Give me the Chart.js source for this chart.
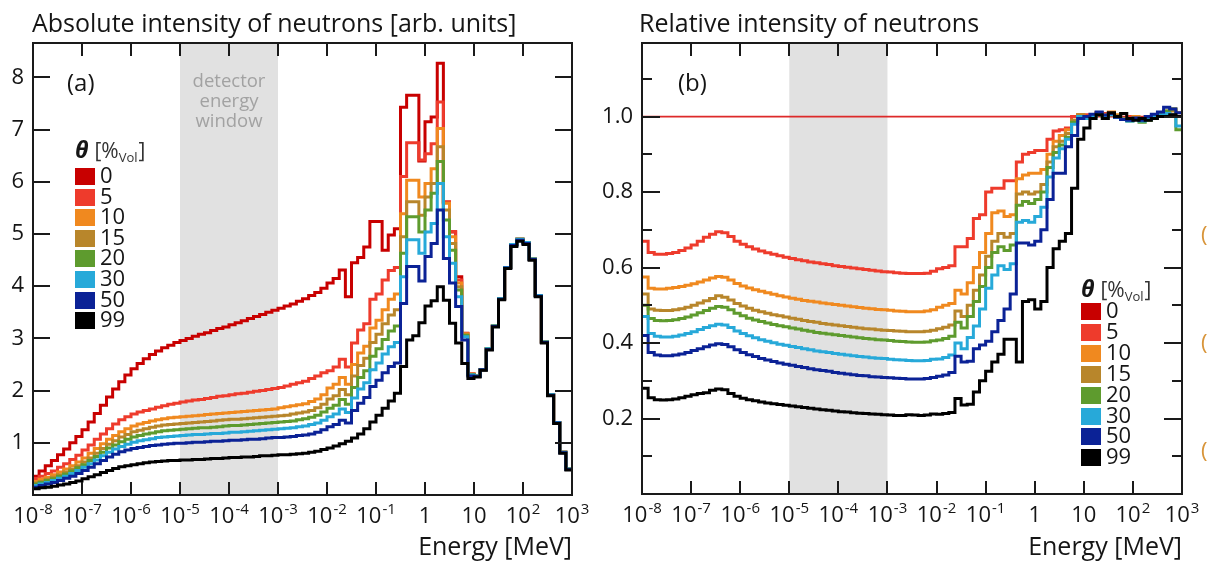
<!DOCTYPE html>
<html><head><meta charset="utf-8">
<script src="https://cdn.jsdelivr.net/npm/chart.js@4.4.1/dist/chart.umd.min.js"></script>
<style>
html,body{margin:0;padding:0;background:#fff;}
#wrap{position:relative;width:1214px;height:565px;overflow:hidden;background:#fff;}
canvas{position:absolute;top:0;}
#ca{left:0}
#cb{left:587px}
</style></head><body>
<div id="wrap"><canvas id="ca" width="607" height="565"></canvas><canvas id="cb" width="627" height="565"></canvas></div>
<script>
const FONT = "'Open Sans', 'DejaVu Sans', sans-serif";

// bin edges, as log10(E / MeV), 8 bins per decade
const binEdgesLog = [
 -8,-7.875,-7.75,-7.625,-7.5,-7.375,-7.25,-7.125,
 -7,-6.875,-6.75,-6.625,-6.5,-6.375,-6.25,-6.125,
 -6,-5.875,-5.75,-5.625,-5.5,-5.375,-5.25,-5.125,
 -5,-4.875,-4.75,-4.625,-4.5,-4.375,-4.25,-4.125,
 -4,-3.875,-3.75,-3.625,-3.5,-3.375,-3.25,-3.125,
 -3,-2.875,-2.75,-2.625,-2.5,-2.375,-2.25,-2.125,
 -2,-1.875,-1.75,-1.625,-1.5,-1.375,-1.25,-1.125,
 -1,-0.875,-0.75,-0.625,-0.5,-0.375,-0.25,-0.125,
 0,0.125,0.25,0.375,0.5,0.625,0.75,0.875,
 1,1.125,1.25,1.375,1.5,1.625,1.75,1.875,
 2,2.125,2.25,2.375,2.5,2.625,2.75,2.875,
 3];

const xTickValues = [-8,-7,-6,-5,-4,-3,-2,-1,0,1,2,3];
const xTickLabels = ['10^-8','10^-7','10^-6','10^-5','10^-4','10^-3','10^-2','10^-1','1','10','10^2','10^3'];
const yTicksA = [1,2,3,4,5,6,7,8];
const yTicksB = [0.1,0.2,0.3,0.4,0.5,0.6,0.7,0.8,0.9,1.0,1.1];
const yLabelsB = ['','0.2','','0.4','','0.6','','0.8','','1.0',''];
const thetaLabels = ['0','5','10','15','20','30','50','99'];
const thetaColors = ['#c80000','#ee3b2c','#f0891f','#b8862b','#5e9b2e','#27a9d9','#0b2296','#000000'];
const detectorWindow = [-5,-3];

// Panel (a): absolute intensity [arb. units], one value per bin
const a_theta0 = [
 0.36,0.46,0.56,0.66,0.77,0.88,1.00,1.12,
 1.25,1.40,1.56,1.72,1.88,2.03,2.17,2.30,
 2.42,2.52,2.61,2.69,2.76,2.82,2.87,2.92,
 2.96,3.00,3.04,3.08,3.11,3.15,3.19,3.22,
 3.26,3.30,3.34,3.38,3.42,3.46,3.50,3.54,
 3.58,3.62,3.66,3.71,3.76,3.82,3.88,3.96,
 4.06,4.15,4.31,3.80,4.45,4.55,4.75,5.24,
 5.24,4.69,4.98,5.10,7.43,7.66,7.66,6.40,
 7.15,7.24,8.27,5.61,5.04,4.18,3.10,2.32,
 2.28,2.40,2.80,3.24,3.76,4.36,4.80,4.90,
 4.84,4.52,3.82,2.93,1.92,1.39,0.82,0.50];
const a_theta5 = [
 0.31,0.36,0.41,0.46,0.53,0.60,0.68,0.76,
 0.86,0.96,1.07,1.17,1.27,1.36,1.44,1.50,
 1.55,1.59,1.62,1.65,1.68,1.71,1.74,1.76,
 1.78,1.80,1.82,1.83,1.85,1.87,1.89,1.90,
 1.92,1.94,1.95,1.97,1.99,2.00,2.02,2.04,
 2.06,2.09,2.12,2.15,2.18,2.23,2.28,2.34,
 2.38,2.45,2.60,2.45,2.91,3.16,3.28,3.75,
 3.85,4.12,4.30,4.36,6.10,6.75,6.75,6.42,
 6.54,6.73,7.53,5.62,5.05,4.12,3.09,2.32,
 2.28,2.40,2.80,3.24,3.76,4.36,4.80,4.90,
 4.84,4.52,3.82,2.93,1.92,1.39,0.82,0.50];
const a_theta10 = [
 0.26,0.30,0.34,0.39,0.44,0.50,0.56,0.63,
 0.71,0.80,0.89,0.98,1.07,1.14,1.21,1.27,
 1.32,1.36,1.39,1.42,1.44,1.46,1.48,1.49,
 1.50,1.51,1.52,1.53,1.54,1.55,1.56,1.57,
 1.58,1.59,1.60,1.61,1.62,1.63,1.64,1.65,
 1.67,1.69,1.71,1.73,1.75,1.79,1.84,1.92,
 2.05,2.12,2.25,2.12,2.50,2.72,2.85,3.20,
 3.35,3.55,3.75,3.85,5.39,6.03,6.03,5.71,
 5.97,6.25,7.02,5.59,4.95,4.06,3.09,2.32,
 2.28,2.40,2.80,3.24,3.76,4.36,4.80,4.90,
 4.84,4.52,3.82,2.93,1.92,1.39,0.82,0.50];
const a_theta15 = [
 0.23,0.26,0.30,0.34,0.39,0.44,0.50,0.56,
 0.63,0.71,0.80,0.89,0.97,1.04,1.11,1.16,
 1.21,1.24,1.27,1.30,1.32,1.34,1.35,1.36,
 1.37,1.38,1.39,1.40,1.41,1.42,1.43,1.44,
 1.45,1.45,1.46,1.47,1.48,1.49,1.50,1.51,
 1.52,1.53,1.55,1.57,1.59,1.62,1.67,1.74,
 1.84,1.90,2.02,1.92,2.28,2.48,2.62,2.92,
 3.08,3.28,3.45,3.55,4.95,5.62,5.62,5.36,
 5.71,5.97,6.67,5.46,4.82,3.99,3.06,2.31,
 2.28,2.40,2.80,3.24,3.76,4.36,4.80,4.90,
 4.84,4.52,3.82,2.93,1.92,1.39,0.82,0.50];
const a_theta20 = [
 0.21,0.24,0.28,0.31,0.36,0.40,0.46,0.52,
 0.58,0.66,0.74,0.82,0.90,0.96,1.02,1.07,
 1.11,1.14,1.17,1.19,1.21,1.23,1.24,1.25,
 1.26,1.27,1.28,1.29,1.29,1.30,1.31,1.32,
 1.33,1.33,1.34,1.35,1.36,1.37,1.38,1.39,
 1.40,1.41,1.42,1.44,1.46,1.49,1.53,1.59,
 1.66,1.72,1.83,1.74,2.06,2.25,2.38,2.66,
 2.80,2.98,3.14,3.24,4.63,5.33,5.33,5.04,
 5.46,5.78,6.39,5.27,4.69,3.93,3.06,2.31,
 2.28,2.40,2.80,3.24,3.76,4.36,4.80,4.90,
 4.84,4.52,3.82,2.93,1.92,1.39,0.82,0.50];
const a_theta30 = [
 0.18,0.21,0.24,0.28,0.32,0.36,0.41,0.47,
 0.53,0.60,0.67,0.75,0.82,0.88,0.93,0.97,
 1.01,1.04,1.06,1.08,1.10,1.11,1.12,1.13,
 1.14,1.15,1.16,1.16,1.17,1.18,1.18,1.19,
 1.20,1.20,1.21,1.22,1.23,1.24,1.25,1.26,
 1.27,1.28,1.29,1.31,1.32,1.35,1.38,1.43,
 1.50,1.55,1.65,1.58,1.86,2.03,2.15,2.40,
 2.53,2.70,2.84,2.92,4.18,4.89,4.89,4.63,
 5.04,5.20,5.97,4.95,4.44,3.80,3.03,2.30,
 2.28,2.40,2.80,3.24,3.76,4.36,4.80,4.90,
 4.84,4.52,3.82,2.93,1.92,1.39,0.82,0.50];
const a_theta50 = [
 0.15,0.18,0.21,0.24,0.28,0.32,0.36,0.41,
 0.47,0.53,0.60,0.66,0.73,0.78,0.83,0.86,
 0.89,0.91,0.93,0.95,0.96,0.97,0.98,0.99,
 0.99,1.00,1.01,1.01,1.02,1.03,1.03,1.04,
 1.05,1.05,1.06,1.07,1.07,1.08,1.09,1.10,
 1.10,1.11,1.12,1.14,1.15,1.17,1.20,1.25,
 1.31,1.35,1.43,1.38,1.62,1.76,1.87,2.08,
 2.20,2.34,2.46,2.53,3.67,4.38,4.38,4.10,
 4.57,4.82,5.46,4.53,4.06,3.61,2.97,2.28,
 2.27,2.40,2.79,3.23,3.75,4.35,4.78,4.88,
 4.82,4.51,3.81,2.92,1.91,1.38,0.81,0.49];
const a_theta99 = [
 0.12,0.14,0.15,0.17,0.19,0.21,0.24,0.27,
 0.31,0.35,0.39,0.43,0.47,0.51,0.54,0.56,
 0.58,0.60,0.62,0.63,0.64,0.65,0.66,0.66,
 0.67,0.67,0.68,0.68,0.69,0.70,0.70,0.71,
 0.72,0.72,0.73,0.73,0.74,0.75,0.75,0.76,
 0.77,0.77,0.78,0.79,0.80,0.82,0.84,0.87,
 0.90,0.94,0.98,1.03,1.09,1.17,1.27,1.40,
 1.53,1.66,1.80,1.95,2.46,2.97,3.05,3.30,
 3.62,3.72,3.99,3.73,3.29,2.91,2.52,2.23,
 2.26,2.39,2.78,3.22,3.74,4.34,4.76,4.86,
 4.80,4.50,3.80,2.91,1.90,1.37,0.80,0.48];

// Panel (b): intensity relative to theta = 0
const b_theta0 = [
 1,1,1,1,1,1,1,1, 1,1,1,1,1,1,1,1, 1,1,1,1,1,1,1,1,
 1,1,1,1,1,1,1,1, 1,1,1,1,1,1,1,1, 1,1,1,1,1,1,1,1,
 1,1,1,1,1,1,1,1, 1,1,1,1,1,1,1,1, 1,1,1,1,1,1,1,1,
 1,1,1,1,1,1,1,1, 1,1,1,1,1,1,1,1];
const b_theta5 = [
 0.670,0.640,0.635,0.635,0.637,0.640,0.645,0.652,
 0.660,0.670,0.680,0.688,0.695,0.692,0.682,0.670,
 0.662,0.655,0.649,0.644,0.639,0.635,0.631,0.627,
 0.624,0.621,0.618,0.615,0.613,0.610,0.608,0.605,
 0.603,0.601,0.599,0.597,0.595,0.593,0.591,0.589,
 0.588,0.586,0.585,0.584,0.584,0.584,0.585,0.590,
 0.597,0.600,0.605,0.655,0.655,0.677,0.730,0.740,
 0.800,0.810,0.810,0.830,0.830,0.880,0.900,0.905,
 0.910,0.910,0.940,0.962,0.965,0.970,1.000,1.005,
 1.005,1.000,1.010,1.008,1.005,1.000,0.995,1.000,
 0.995,0.990,0.995,1.000,1.005,1.010,1.005,1.000];
const b_theta10 = [
 0.575,0.545,0.543,0.543,0.545,0.547,0.550,0.553,
 0.557,0.562,0.567,0.572,0.576,0.574,0.567,0.558,
 0.551,0.546,0.541,0.537,0.533,0.529,0.525,0.522,
 0.519,0.516,0.513,0.511,0.509,0.506,0.504,0.502,
 0.500,0.498,0.496,0.494,0.492,0.491,0.489,0.488,
 0.487,0.485,0.484,0.483,0.483,0.483,0.485,0.488,
 0.495,0.500,0.505,0.540,0.530,0.560,0.600,0.640,
 0.690,0.745,0.750,0.735,0.740,0.835,0.845,0.850,
 0.850,0.860,0.900,0.935,0.950,0.965,0.990,1.005,
 1.000,1.005,1.010,1.005,1.012,1.005,0.995,0.993,
 1.000,0.995,1.000,1.002,1.010,1.015,1.020,1.010];
const b_theta15 = [
 0.530,0.490,0.487,0.486,0.486,0.488,0.491,0.495,
 0.500,0.506,0.512,0.518,0.525,0.521,0.514,0.505,
 0.498,0.492,0.487,0.483,0.479,0.475,0.472,0.469,
 0.466,0.463,0.460,0.457,0.455,0.452,0.450,0.448,
 0.446,0.444,0.442,0.440,0.438,0.437,0.435,0.434,
 0.433,0.432,0.431,0.430,0.430,0.430,0.431,0.434,
 0.438,0.442,0.448,0.485,0.470,0.500,0.540,0.580,
 0.630,0.670,0.690,0.680,0.690,0.795,0.800,0.795,
 0.800,0.820,0.880,0.920,0.935,0.955,0.990,1.005,
 0.998,1.003,1.008,1.003,1.008,1.002,0.995,0.990,
 0.996,0.990,0.995,1.000,1.006,1.012,1.015,1.000];
const b_theta20 = [
 0.500,0.465,0.460,0.459,0.460,0.462,0.465,0.469,
 0.474,0.480,0.486,0.492,0.497,0.495,0.488,0.479,
 0.472,0.466,0.461,0.457,0.453,0.449,0.446,0.443,
 0.440,0.437,0.434,0.431,0.428,0.426,0.424,0.422,
 0.420,0.418,0.416,0.414,0.412,0.411,0.409,0.408,
 0.407,0.405,0.404,0.403,0.402,0.402,0.403,0.406,
 0.408,0.412,0.418,0.455,0.440,0.470,0.510,0.550,
 0.600,0.640,0.655,0.645,0.660,0.765,0.775,0.770,
 0.780,0.800,0.865,0.905,0.925,0.945,0.985,1.000,
 0.995,1.000,1.005,1.000,1.005,0.998,0.992,0.988,
 0.992,0.985,0.990,1.000,1.006,1.015,1.020,0.965];
const b_theta30 = [
 0.470,0.425,0.418,0.416,0.416,0.418,0.421,0.425,
 0.430,0.436,0.441,0.446,0.450,0.448,0.441,0.432,
 0.425,0.419,0.414,0.409,0.405,0.401,0.397,0.394,
 0.391,0.388,0.385,0.382,0.379,0.377,0.375,0.372,
 0.370,0.368,0.366,0.364,0.363,0.361,0.360,0.359,
 0.357,0.356,0.355,0.354,0.353,0.353,0.354,0.357,
 0.358,0.362,0.368,0.400,0.385,0.415,0.445,0.490,
 0.545,0.580,0.605,0.595,0.610,0.720,0.725,0.720,
 0.735,0.760,0.840,0.890,0.915,0.940,0.980,1.000,
 0.995,1.000,1.006,1.002,1.005,0.998,0.993,0.988,
 0.993,0.988,0.992,1.000,1.004,1.008,1.005,0.975];
const b_theta50 = [
 0.420,0.375,0.368,0.366,0.366,0.368,0.371,0.375,
 0.380,0.385,0.390,0.395,0.398,0.396,0.390,0.382,
 0.375,0.369,0.364,0.359,0.355,0.351,0.347,0.344,
 0.341,0.338,0.335,0.332,0.329,0.327,0.325,0.322,
 0.320,0.318,0.316,0.314,0.313,0.311,0.310,0.309,
 0.308,0.307,0.306,0.305,0.305,0.305,0.306,0.309,
 0.312,0.315,0.322,0.365,0.350,0.352,0.385,0.395,
 0.405,0.430,0.460,0.490,0.530,0.665,0.665,0.660,
 0.670,0.700,0.780,0.850,0.850,0.920,0.950,0.995,
 1.000,1.006,1.012,1.004,1.008,0.998,0.992,0.990,
 0.996,0.990,1.000,1.006,1.012,1.025,1.020,1.010];
const b_theta99 = [
 0.280,0.255,0.250,0.249,0.250,0.252,0.255,0.259,
 0.263,0.266,0.268,0.275,0.278,0.276,0.266,0.259,
 0.254,0.250,0.247,0.244,0.241,0.239,0.237,0.235,
 0.233,0.231,0.229,0.227,0.225,0.223,0.222,0.220,
 0.218,0.217,0.215,0.214,0.213,0.212,0.211,0.210,
 0.209,0.208,0.208,0.210,0.209,0.208,0.209,0.212,
 0.211,0.213,0.216,0.253,0.236,0.238,0.270,0.300,
 0.325,0.350,0.370,0.410,0.410,0.350,0.510,0.515,
 0.490,0.510,0.600,0.650,0.670,0.690,0.810,0.940,
 0.970,0.995,1.005,0.995,1.010,1.000,1.008,0.995,
 0.990,0.995,0.990,0.995,1.000,1.000,1.005,1.000];

const seriesA = [a_theta0,a_theta5,a_theta10,a_theta15,a_theta20,a_theta30,a_theta50,a_theta99];
const seriesB = [b_theta0,b_theta5,b_theta10,b_theta15,b_theta20,b_theta30,b_theta50,b_theta99];

// step histogram points: value of bin i starts at left edge i; final point closes the last bin
function toSteps(vals) {
  const pts = vals.map((v, i) => ({x: binEdgesLog[i], y: v}));
  pts.push({x: binEdgesLog[binEdgesLog.length - 1], y: vals[vals.length - 1]});
  return pts;
}

function drawXLabels(chart) {
  const {ctx, scales: {x}, chartArea: ca} = chart;
  ctx.save();
  ctx.fillStyle = '#151515';
  ctx.textBaseline = 'alphabetic';
  ctx.textAlign = 'left';
  xTickValues.forEach((v, i) => {
    const parts = xTickLabels[i].split('^');
    const base = parts[0], exp = parts[1] || '';
    ctx.font = `22px ${FONT}`;
    const wb = ctx.measureText(base).width;
    let we = 0;
    if (exp) { ctx.font = `15px ${FONT}`; we = ctx.measureText(exp).width + 1; }
    const px = x.getPixelForValue(v);
    const start = px - (wb + we) / 2;
    const yb = ca.bottom + 28;
    ctx.font = `22px ${FONT}`;
    ctx.fillText(base, start, yb);
    if (exp) { ctx.font = `15px ${FONT}`; ctx.fillText(exp, start + wb + 1, yb - 9); }
  });
  ctx.restore();
}

function drawLegend(ctx, x, titleBaseline, firstTop, pitch) {
  ctx.save();
  ctx.fillStyle = '#151515';
  ctx.textAlign = 'left';
  ctx.textBaseline = 'alphabetic';
  let cx = x;
  ctx.font = `italic bold 23px ${FONT}`;
  ctx.fillText('θ', cx, titleBaseline);
  cx += ctx.measureText('θ').width + 6;
  ctx.fillStyle = '#333';
  ctx.font = `21px ${FONT}`;
  ctx.fillText('[%', cx, titleBaseline);
  cx += ctx.measureText('[%').width;
  ctx.font = `13px ${FONT}`;
  ctx.fillText('Vol', cx, titleBaseline + 4);
  cx += ctx.measureText('Vol').width + 1;
  ctx.font = `21px ${FONT}`;
  ctx.fillText(']', cx, titleBaseline);
  thetaLabels.forEach((lab, i) => {
    const top = Math.round(firstTop + pitch * i);
    ctx.fillStyle = thetaColors[i];
    ctx.fillRect(x, top, 20, 17);
    ctx.fillStyle = '#151515';
    ctx.font = `22px ${FONT}`;
    ctx.textBaseline = 'middle';
    ctx.fillText(lab, x + 25, top + 9);
  });
  ctx.restore();
}

function makePanelPlugin(cfg) {
  return {
    id: 'panel_' + cfg.id,
    beforeDatasetsDraw(chart) {
      const {ctx, chartArea: ca, scales: {x}} = chart;
      const x0 = x.getPixelForValue(detectorWindow[0]);
      const x1 = x.getPixelForValue(detectorWindow[1]);
      ctx.save();
      ctx.fillStyle = '#e1e1e1';
      ctx.fillRect(x0, ca.top, x1 - x0, ca.bottom - ca.top);
      ctx.restore();
    },
    afterDatasetsDraw(chart) {
      const {ctx, chartArea: ca, scales: {x, y}} = chart;
      ctx.save();
      ctx.strokeStyle = '#1a1a1a';
      ctx.lineWidth = 2;
      ctx.beginPath();
      xTickValues.forEach(v => {
        if (v === xTickValues[0] || v === xTickValues[xTickValues.length - 1]) return;
        const px = Math.round(x.getPixelForValue(v));
        ctx.moveTo(px, ca.bottom); ctx.lineTo(px, ca.bottom - 13);
        ctx.moveTo(px, ca.top); ctx.lineTo(px, ca.top + 13);
      });
      cfg.yTicks.forEach((v, i) => {
        const py = Math.round(y.getPixelForValue(v));
        const len = cfg.tickLen(i);
        ctx.moveTo(ca.left, py); ctx.lineTo(ca.left + len, py);
        ctx.moveTo(ca.right, py); ctx.lineTo(ca.right - len, py);
      });
      ctx.stroke();
      ctx.strokeRect(ca.left, ca.top, ca.right - ca.left, ca.bottom - ca.top);
      ctx.restore();
    },
    afterDraw(chart) {
      const {ctx, scales: {x}} = chart;
      drawXLabels(chart);
      ctx.save();
      // panel title
      ctx.fillStyle = '#151515';
      ctx.font = `25px ${FONT}`;
      ctx.textAlign = 'left';
      ctx.textBaseline = 'alphabetic';
      ctx.fillText(cfg.title, cfg.titleX, 32);
      // panel tag
      ctx.font = `24px ${FONT}`;
      ctx.fillText(cfg.panelTag, cfg.tagX, 91);
      if (cfg.detectorText) {
        const cxw = x.getPixelForValue((detectorWindow[0] + detectorWindow[1]) / 2);
        ctx.fillStyle = '#a2a2a2';
        ctx.font = `18.5px ${FONT}`;
        ctx.textAlign = 'center';
        ctx.textBaseline = 'middle';
        ['detector', 'energy', 'window'].forEach((t, i) => ctx.fillText(t, cxw, 82 + 20 * i));
      }
      if (cfg.edgeMarks) {
        ctx.fillStyle = '#d8953a';
        ctx.font = `22px ${FONT}`;
        ctx.textAlign = 'left';
        ctx.textBaseline = 'middle';
        cfg.edgeMarks.forEach(py => ctx.fillText('(', cfg.edgeX, py));
      }
      ctx.restore();
      drawLegend(ctx, cfg.legend.x, cfg.legend.titleBaseline, cfg.legend.firstTop, cfg.legend.pitch);
    }
  };
}

function makeChart(canvasId, cfg) {
  const datasets = cfg.series.map((vals, i) => ({
    label: 'θ = ' + thetaLabels[i] + ' %',
    data: toSteps(vals),
    borderColor: thetaColors[i],
    backgroundColor: thetaColors[i],
    borderWidth: (cfg.thinFirst && i === 0) ? 1.6 : 3,
    pointRadius: 0,
    stepped: true,
    fill: false,
    borderJoinStyle: 'miter',
    borderCapStyle: 'butt',
    order: 8 - i
  }));
  if (cfg.thinFirst) datasets[0].borderColor = '#dd2a2a';
  return new Chart(document.getElementById(canvasId), {
    type: 'line',
    data: {datasets},
    options: {
      responsive: false,
      animation: false,
      devicePixelRatio: 1,
      layout: {padding: {left: 0, right: cfg.padRight, top: 43, bottom: 0}},
      plugins: {
        legend: {display: false},
        tooltip: {enabled: false},
        title: {display: false}
      },
      scales: {
        x: {
          type: 'linear', min: -8, max: 3,
          grid: {display: false, drawTicks: false},
          border: {display: false},
          ticks: {display: false},
          afterBuildTicks: s => { s.ticks = xTickValues.map(v => ({value: v})); },
          afterFit: s => { s.height = cfg.xHeight; },
          title: {
            display: true, text: 'Energy [MeV]', align: 'end', color: '#151515',
            font: {family: FONT, size: 25}, padding: {top: 0, bottom: 2}
          }
        },
        y: {
          type: 'linear', min: 0, max: cfg.yMax,
          grid: {display: false, drawTicks: false},
          border: {display: false},
          ticks: {
            color: '#151515', font: {family: FONT, size: 22}, padding: 9,
            autoSkip: false, callback: cfg.yLabel
          },
          afterBuildTicks: s => { s.ticks = cfg.yTicks.map(v => ({value: v})); },
          afterFit: s => { s.width = cfg.yWidth; }
        }
      }
    },
    plugins: [makePanelPlugin(cfg)]
  });
}

makeChart('ca', {
  id: 'a', series: seriesA, title: 'Absolute intensity of neutrons [arb. units]', titleX: 32,
  padRight: 35, yWidth: 33, xHeight: 70, yMax: 8.66,
  yTicks: yTicksA, yLabel: (v) => String(v), tickLen: () => 17,
  panelTag: '(a)', tagX: 67, detectorText: true,
  legend: {x: 75, titleBaseline: 158, firstTop: 168, pitch: 20.6}
});

// panel (b) canvas starts at page x = 587
makeChart('cb', {
  id: 'b', series: seriesB, title: 'Relative intensity of neutrons', titleX: 52, thinFirst: true,
  padRight: 32, yWidth: 55, xHeight: 71, yMax: 1.195,
  yTicks: yTicksB, yLabel: (v, i) => yLabelsB[i], tickLen: (i) => (yLabelsB[i] ? 18 : 10),
  panelTag: '(b)', tagX: 91, detectorText: false,
  edgeMarks: [236, 344, 452], edgeX: 614,
  legend: {x: 494, titleBaseline: 297, firstTop: 303, pitch: 20.9}
});
</script>
</body></html>
